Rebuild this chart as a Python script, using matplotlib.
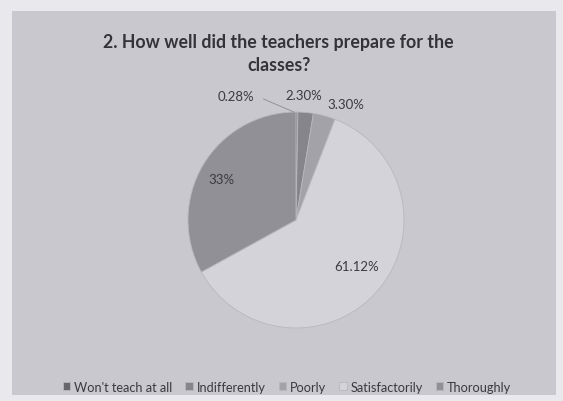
import matplotlib.pyplot as plt
from matplotlib.patches import Rectangle

# Survey answers
categories = ["Won't teach at all", "Indifferently", "Poorly", "Satisfactorily", "Thoroughly"]
shares = [0.28, 2.30, 3.30, 61.12, 33.0]
pct_labels = ["0.28%", "2.30%", "3.30%", "61.12%", "33%"]

colors = ["#66666c", "#85858b", "#a2a2a8", "#d4d3d9", "#919096"]
# label positions (pie radius = 1)
label_pos = [(-0.56, 1.145), (0.07, 1.16), (0.46, 1.07), (0.565, -0.43), (-0.69, 0.38)]

plt.rcParams['font.family'] = ['Lato', 'DejaVu Sans']

W, H = 563, 402
fig = plt.figure(figsize=(W / 100, H / 100), dpi=100)
fig.patch.set_facecolor("#e9e8ec")
fig.patches.append(Rectangle((12 / W, 6 / H), 544 / W, 384 / H, transform=fig.transFigure,
                             facecolor="#c9c8cf", edgecolor="none", zorder=-1))

# pie centred at (296, 221) px, radius 108 px
cx, cy, r = 296, 221, 108
ax = fig.add_axes([(cx - r) / W, (H - cy - r) / H, 2 * r / W, 2 * r / H])
ax.set_zorder(2)

wedges, _ = ax.pie(shares, colors=colors, startangle=90, counterclock=False, radius=1,
                   wedgeprops=dict(edgecolor="#b8b7be", linewidth=0.6))
ax.set_xlim(-1, 1)
ax.set_ylim(-1, 1)
ax.axis("off")

for txt, (x, y) in zip(pct_labels, label_pos):
    ax.text(x, y, txt, ha="center", va="center", fontsize=9.5, color="#3a3a40", clip_on=False)

# leader line for the smallest slice
ax.plot([-0.3, -0.02], [1.12, 1.0], color="#8a8a90", lw=0.6, clip_on=False)

fig.text(0.495, 0.865, "2. How well did the teachers prepare for the\nclasses?", ha="center", va="center",
         fontsize=12.8, fontweight="bold", color="#333338", linespacing=1.45, zorder=3)

fig.legend(wedges, categories, loc="center", bbox_to_anchor=(0.51, 0.035), ncol=5, frameon=False,
           fontsize=9.2, handlelength=0.6, handleheight=0.6, handletextpad=0.3, columnspacing=1.0,
           labelcolor="#3a3a40")

fig.savefig("out.png", dpi=100, facecolor=fig.get_facecolor())
